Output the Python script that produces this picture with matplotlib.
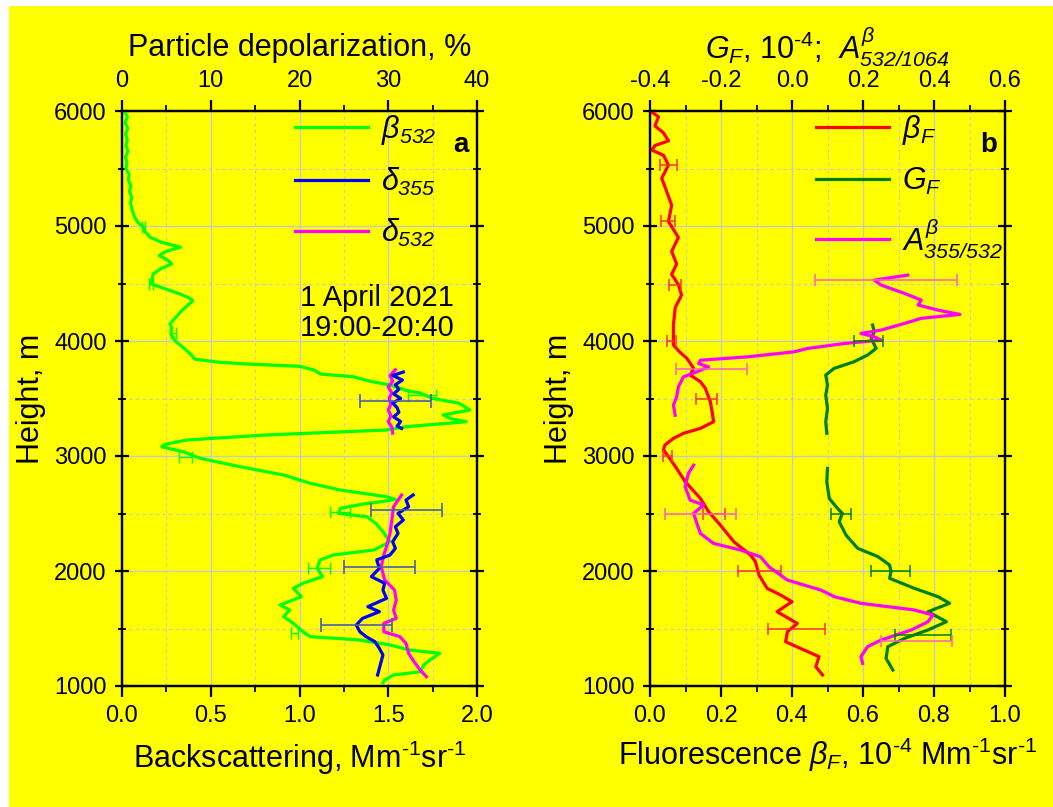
import numpy as np
import matplotlib
matplotlib.use('Agg')
import matplotlib.pyplot as plt
from matplotlib.lines import Line2D
from matplotlib.patches import Rectangle
from matplotlib.ticker import MultipleLocator

plt.rcParams['font.family'] = ['Liberation Sans', 'DejaVu Sans']
plt.rcParams['mathtext.fontset'] = 'custom'
plt.rcParams['mathtext.rm'] = 'Liberation Sans'
plt.rcParams['mathtext.it'] = 'Liberation Sans:italic'
plt.rcParams['mathtext.bf'] = 'Liberation Sans:bold'
# italic digits in subscripts go through \mathsf
plt.rcParams['mathtext.sf'] = 'Liberation Sans:italic'

# ---------------- panel a ----------------
# beta 532, Mm-1 sr-1 (bottom axis)
h_b532 = [6000, 5950, 5900, 5850, 5800, 5750, 5700, 5650, 5600, 5550, 5500, 5450, 5400, 5350,
          5300, 5250, 5200, 5136, 5080, 5030, 4990, 4950, 4903, 4860, 4816, 4780, 4743, 4700,
          4670, 4630, 4583, 4540, 4497, 4450, 4409, 4380, 4351, 4310, 4264, 4200, 4150, 4118,
          4060, 4000, 3943, 3880, 3842, 3815, 3799, 3780, 3748, 3712, 3690, 3650, 3617, 3570,
          3548, 3501, 3458, 3400, 3357, 3325, 3298, 3255, 3226, 3183, 3139, 3100, 3081, 3060,
          3038, 2980, 2907, 2835, 2763, 2704, 2646, 2623, 2600, 2588, 2545, 2501, 2472, 2414,
          2342, 2255, 2183, 2139, 2096, 2023, 1951, 1893, 1850, 1777, 1740, 1704, 1661, 1603,
          1545, 1472, 1429, 1400, 1357, 1313, 1284, 1226, 1183, 1124, 1096, 1052, 1029]
b532 = [0.012, 0.03, 0.018, 0.032, 0.02, 0.03, 0.022, 0.034, 0.02, 0.028, 0.022, 0.04, 0.036, 0.05,
        0.042, 0.055, 0.048, 0.058, 0.07, 0.09, 0.12, 0.13, 0.158, 0.22, 0.33, 0.25, 0.21, 0.26,
        0.28, 0.22, 0.176, 0.17, 0.165, 0.25, 0.327, 0.37, 0.40, 0.37, 0.336, 0.30, 0.27, 0.28,
        0.275, 0.30, 0.345, 0.39, 0.41, 0.55, 0.72, 1.0, 1.08, 1.12, 1.30, 1.40, 1.51, 1.60,
        1.68, 1.75, 1.90, 1.96, 1.81, 1.85, 1.94, 1.60, 1.49, 0.815, 0.364, 0.24, 0.224, 0.28,
        0.345, 0.44, 0.665, 0.91, 1.06, 1.23, 1.49, 1.54, 1.45, 1.38, 1.23, 1.22, 1.38, 1.43,
        1.47, 1.51, 1.42, 1.19, 1.115, 1.10, 1.13, 1.02, 0.965, 1.01, 0.95, 0.89, 0.946, 0.91,
        0.965, 1.02, 1.06, 1.34, 1.51, 1.62, 1.79, 1.735, 1.70, 1.68, 1.53, 1.48, 1.47]

# depolarization, % (top axis)
h_d355 = [3730, 3700, 3660, 3620, 3580, 3540, 3500, 3460, 3420, 3380, 3340, 3300, 3260, 3240,
          np.nan,
          2661, 2617, 2559, 2501, 2443, 2385, 2327, 2255, 2197, 2139, 2096, 2023, 1951, 1893,
          1835, 1762, 1690, 1646, 1588, 1530, 1472, 1429, 1385, 1327, 1270, 1212, 1154, 1096]
d355 = [31.7, 30.5, 31.6, 30.8, 31.2, 30.6, 31.4, 30.5, 31.0, 31.2, 30.6, 31.4, 31.0, 31.5,
        np.nan,
        32.8, 32.0, 32.3, 31.1, 31.7, 30.8, 31.1, 30.5, 30.8, 30.2, 28.7, 29.0, 28.1, 29.6,
        29.4, 29.8, 27.7, 29.0, 27.1, 26.4, 26.8, 27.5, 28.5, 29.0, 29.4, 29.2, 29.0, 28.8]

h_d532 = [3750, 3700, 3650, 3600, 3550, 3500, 3450, 3400, 3350, 3300, 3250, 3200,
          np.nan,
          2661, 2559, 2443, 2327, 2212, 2139, 2038, 1922, 1835, 1748, 1661, 1588, 1545, 1472,
          1429, 1371, 1284, 1212, 1139, 1081]
d532 = [30.8, 30.2, 30.5, 30.0, 30.4, 30.1, 30.3, 30.0, 30.3, 30.0, 30.4, 30.5,
        np.nan,
        31.5, 30.6, 30.4, 30.2, 29.8, 29.5, 29.2, 29.6, 30.7, 30.9, 30.6, 30.9, 29.5, 29.5,
        31.3, 32.0, 32.3, 32.9, 33.6, 34.3]

# error bars panel a
h_err_d355 = [3480, 2530, 2035, 1530]
c_err_d355 = [30.8, 32.0, 29.0, 26.4]
e_err_d355 = [4.0, 4.0, 4.0, 4.0]
h_err_b532 = [4990, 4500, 4070, 3530, 2990, 2510, 2030, 1460]
c_err_b532 = [0.12, 0.165, 0.29, 1.69, 0.358, 1.23, 1.11, 0.97]
e_err_b532 = [0.01, 0.012, 0.015, 0.08, 0.035, 0.056, 0.06, 0.02]

# ---------------- panel b ----------------
h_bF = [5990, 5950, 5870, 5810, 5740, 5700, 5660, 5615, 5530, 5415, 5300, 5180, 5040, 4900,
        4780, 4670, 4580, 4490, 4400, 4290, 4140, 4020, 3965, 3900, 3849, 3762, 3704, 3646,
        3588, 3472, 3385, 3298, 3240, 3197, 3153, 3096, 3052, 2994, 2892, 2777, 2631, 2516,
        2400, 2255, 2139, 2081, 1965, 1849, 1791, 1733, 1646, 1544, 1472, 1385, 1313, 1255,
        1168, 1096]
bF = [0.005, 0.024, 0.014, 0.038, 0.052, 0.014, 0.005, 0.038, 0.052, 0.033, 0.047, 0.061, 0.052,
      0.080, 0.061, 0.075, 0.061, 0.080, 0.089, 0.071, 0.066, 0.066, 0.066, 0.085, 0.104, 0.123,
      0.113, 0.142, 0.156, 0.170, 0.175, 0.179, 0.142, 0.094, 0.066, 0.042, 0.038, 0.052, 0.075,
      0.099, 0.142, 0.165, 0.198, 0.236, 0.283, 0.297, 0.307, 0.330, 0.368, 0.400, 0.358, 0.415,
      0.387, 0.382, 0.434, 0.476, 0.467, 0.486]

# G_F and A (top axis)
h_GF = [4139, 4081, 4023, 3936, 3878, 3820, 3762, 3704, 3617, 3530, 3414, 3298, 3197,
        np.nan,
        2892, 2777, 2631, 2545, 2501, 2429, 2313, 2197, 2125, 2052, 1994, 1936, 1849, 1777,
        1719, 1646, 1559, 1487, 1414, 1342, 1240, 1139]
GF = [0.227, 0.232, 0.223, 0.237, 0.213, 0.175, 0.119, 0.095, 0.100, 0.095, 0.100, 0.095, 0.098,
      np.nan,
      0.100, 0.098, 0.105, 0.128, 0.142, 0.133, 0.152, 0.185, 0.242, 0.275, 0.279, 0.275, 0.345,
      0.411, 0.444, 0.383, 0.435, 0.383, 0.317, 0.270, 0.265, 0.284]

h_A = [4573, 4530, 4486, 4414, 4356, 4313, 4269, 4231, 4197, 4153, 4095, 4066, 4037, 4008,
       3978, 3935, 3906, 3862, 3833, 3804, 3775, 3732, 3688, 3601, 3514, 3442, 3355,
       np.nan,
       2920, 2848, 2733, 2617, 2574, 2501, 2414, 2327, 2240, 2182, 2124, 2037, 1921, 1835,
       1777, 1719, 1661, 1617, 1559, 1487, 1400, 1342, 1255, 1197]
A = [0.326, 0.232, 0.251, 0.317, 0.364, 0.355, 0.411, 0.473, 0.364, 0.317, 0.251, 0.194, 0.232,
     0.251, 0.147, 0.043, 0.006, -0.126, -0.258, -0.263, -0.235, -0.268, -0.306, -0.320, -0.325,
     -0.334, -0.329,
     np.nan,
     -0.277, -0.292, -0.301, -0.287, -0.249, -0.277, -0.268, -0.258, -0.221, -0.145, -0.089,
     -0.065, -0.013, 0.081, 0.119, 0.194, 0.345, 0.397, 0.383, 0.336, 0.251, 0.213, 0.194, 0.199]

h_err_bF = [5530, 5040, 4490, 4000, 3500, 3000, 2500, 2000, 1500]
c_err_bF = [0.052, 0.05, 0.07, 0.06, 0.16, 0.05, 0.18, 0.308, 0.413]
e_err_bF = [0.025, 0.02, 0.016, 0.013, 0.03, 0.012, 0.03, 0.06, 0.08]
h_err_A = [4530, 3760, 2500, 1390]
c_err_A = [0.265, -0.228, -0.257, 0.352]
e_err_A = [0.2, 0.1, 0.1, 0.1]
h_err_GF = [4000, 2500, 2000, 1440]
c_err_GF = [0.215, 0.138, 0.278, 0.369]
e_err_GF = [0.04, 0.027, 0.055, 0.08]

YEL = '#ffff00'
LIME = '#00ff00'
BLUE = '#0000ff'
MAG = '#ff00ff'
RED = '#ff0000'
DGREEN = '#008000'
LW = 2.3
TICK_FS = 17
LAB_FS = 22
UNIT = r'Mm$^{\text{-1}}$sr$^{\text{-1}}$'

fig = plt.figure(figsize=(10.53, 8.07), dpi=100)
fig.patch.set_facecolor('white')
fig.add_artist(Rectangle((9 / 1053, 0), 1, 1 - 6 / 807, transform=fig.transFigure,
                         facecolor=YEL, edgecolor='none', zorder=-10))


def style(ax, top):
    ax.set_facecolor(YEL)
    ax.set_ylim(1000, 6000)
    ax.yaxis.set_major_locator(MultipleLocator(1000))
    ax.yaxis.set_minor_locator(MultipleLocator(500))
    ax.grid(which='major', color='#c8c8c8', lw=1.0, ls='-')
    ax.grid(which='minor', color='#c8c8c8', lw=0.8, ls=(0, (3, 3)))
    ax.set_axisbelow(True)
    for sp in ax.spines.values():
        sp.set_linewidth(1.6)
    for sp in top.spines.values():
        sp.set_linewidth(1.6)
    ax.tick_params(axis='both', which='major', labelsize=TICK_FS, width=1.6, length=8, pad=6)
    ax.tick_params(axis='both', which='minor', width=1.3, length=4.5)
    ax.tick_params(axis='y', which='both', right=True, direction='inout')
    top.tick_params(axis='x', which='major', labelsize=TICK_FS, width=1.6, length=8, pad=6, direction='out')
    top.tick_params(axis='x', which='minor', width=1.3, length=4.5, direction='out')
    ax.tick_params(axis='y', which='major', length=10)
    ax.tick_params(axis='y', which='minor', length=6)
    top.patch.set_visible(False)


# panel a
axa = fig.add_axes([122 / 1053, 1 - 686 / 807, 355 / 1053, 575 / 807])
axa_t = axa.twiny()
style(axa, axa_t)
axa.set_xlim(0, 2)
axa.xaxis.set_major_locator(MultipleLocator(0.5))
axa.xaxis.set_minor_locator(MultipleLocator(0.25))
axa.xaxis.set_major_formatter(lambda v, p: f'{v:.1f}')
axa_t.set_xlim(0, 40)
axa_t.xaxis.set_major_locator(MultipleLocator(10))
axa_t.xaxis.set_minor_locator(MultipleLocator(5))

axa.plot(b532, h_b532, color=LIME, lw=LW, zorder=3)
axa.errorbar(c_err_b532, h_err_b532, xerr=e_err_b532, fmt='none', ecolor=LIME, elinewidth=1.0,
             capsize=4, capthick=1.0, zorder=4)
axa_t.plot(d532, h_d532, color=MAG, lw=LW, zorder=3)
axa_t.plot(d355, h_d355, color=BLUE, lw=LW, zorder=4)
axa_t.errorbar(c_err_d355, h_err_d355, xerr=e_err_d355, fmt='none', ecolor='#4a5fa8',
               elinewidth=1.2, capsize=5, capthick=1.2, zorder=5)

axa.set_xlabel('Backscattering, ' + UNIT, fontsize=LAB_FS, labelpad=8)
axa.set_ylabel('Height, m', fontsize=LAB_FS, labelpad=6)
axa_t.set_xlabel('Particle depolarization, %', fontsize=LAB_FS, labelpad=10)
axa.text(0.955, 0.94, 'a', transform=axa.transAxes, fontsize=20, fontweight='bold',
         ha='center', va='center')
axa.text(0.50, 0.648, '1 April 2021\n19:00-20:40', transform=axa.transAxes, fontsize=21,
         ha='left', va='center', linespacing=1.1)

hand_a = [Line2D([], [], color=LIME, lw=LW), Line2D([], [], color=BLUE, lw=LW),
          Line2D([], [], color=MAG, lw=LW)]
lab_a = [r'$\beta_{\mathsf{532}}$', r'$\delta_{\mathsf{355}}$', r'$\delta_{\mathsf{532}}$']
axa.legend(hand_a, lab_a, loc='upper left', bbox_to_anchor=(0.41, 1.045), frameon=False,
           fontsize=22, handlelength=2.4, labelspacing=0.62, handletextpad=0.4)

# panel b
axb = fig.add_axes([650 / 1053, 1 - 686 / 807, 355 / 1053, 575 / 807])
axb_t = axb.twiny()
style(axb, axb_t)
axb.set_xlim(0, 1)
axb.xaxis.set_major_locator(MultipleLocator(0.2))
axb.xaxis.set_minor_locator(MultipleLocator(0.1))
axb.xaxis.set_major_formatter(lambda v, p: f'{v:.1f}')
axb_t.set_xlim(-0.4, 0.6)
axb_t.xaxis.set_major_locator(MultipleLocator(0.2))
axb_t.xaxis.set_minor_locator(MultipleLocator(0.1))
axb_t.xaxis.set_major_formatter(lambda v, p: f'{v:.1f}')

axb.plot(bF, h_bF, color=RED, lw=LW, zorder=3)
axb.errorbar(c_err_bF, h_err_bF, xerr=e_err_bF, fmt='none', ecolor='#ff3030', elinewidth=1.1,
             capsize=4, capthick=1.1, zorder=5)
axb_t.plot(GF, h_GF, color=DGREEN, lw=LW, zorder=3)
axb_t.plot(A, h_A, color=MAG, lw=LW, zorder=4)
axb_t.errorbar(c_err_GF, h_err_GF, xerr=e_err_GF, fmt='none', ecolor=DGREEN, elinewidth=1.1,
               capsize=4, capthick=1.1, zorder=5)
axb_t.errorbar(c_err_A, h_err_A, xerr=e_err_A, fmt='none', ecolor='#ff5fbf', elinewidth=1.1,
               capsize=4, capthick=1.1, zorder=5)

axb.set_xlabel(r'Fluorescence $\beta_F$, 10$^{\text{-4}}$ ' + UNIT, fontsize=LAB_FS, labelpad=6)
axb.set_ylabel('Height, m', fontsize=LAB_FS, labelpad=6)
axb_t.set_xlabel(r'$G_F$, 10$^{\text{-4}}$;  $A^{\beta}_{\mathsf{532/1064}}$', fontsize=LAB_FS,
                 labelpad=8)
axb.text(0.955, 0.94, 'b', transform=axb.transAxes, fontsize=20, fontweight='bold',
         ha='center', va='center')

hand_b = [Line2D([], [], color=RED, lw=LW), Line2D([], [], color=DGREEN, lw=LW),
          Line2D([], [], color=MAG, lw=LW)]
lab_b = [r'$\beta_F$', r'$G_F$', r'$A^{\beta}_{\mathsf{355/532}}$']
axb.legend(hand_b, lab_b, loc='upper left', bbox_to_anchor=(0.39, 1.045), frameon=False,
           fontsize=22, handlelength=2.4, labelspacing=0.62, handletextpad=0.4)

fig.savefig('out.png', dpi=100, facecolor=fig.get_facecolor())
